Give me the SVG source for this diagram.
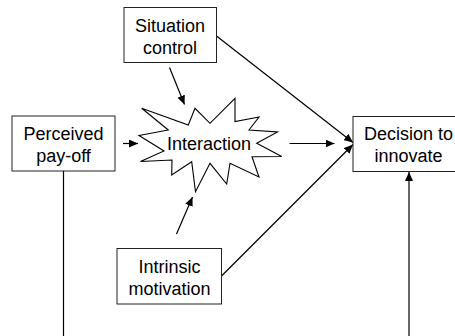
<svg xmlns="http://www.w3.org/2000/svg" width="455" height="336" viewBox="0 0 455 336">
<style>
.box{fill:#fff;stroke:#222;stroke-width:1}
.t{font-family:"Liberation Sans",Arial,sans-serif;font-size:18px;fill:#000;text-anchor:middle}
.c{stroke:#000;stroke-width:1.2;fill:none;marker-end:url(#ah)}
</style>
<defs>
<marker id="ah" markerUnits="userSpaceOnUse" markerWidth="9" markerHeight="8" viewBox="0 0 9 8" refX="9" refY="4" orient="auto">
<path d="M0,0 L9,4 L0,8 z" fill="#000"/>
</marker>
</defs>
<rect width="455" height="336" fill="#fff"/>
<g id="connectors">
<line class="c" x1="123" y1="143.5" x2="138" y2="143.5"/>
<line class="c" x1="169.5" y1="67.5" x2="184.5" y2="104.5"/>
<line class="c" x1="176.5" y1="234" x2="192.5" y2="197"/>
<line class="c" x1="289.5" y1="143.5" x2="334.5" y2="143.5"/>
<line class="c" x1="216.5" y1="36" x2="353" y2="142.5"/>
<line class="c" x1="221.5" y1="276" x2="353" y2="144.5"/>
<line x1="63.5" y1="171" x2="63.5" y2="336" stroke="#000" stroke-width="1.2"/>
<line class="c" x1="409" y1="336" x2="409" y2="172"/>
</g>
<g id="situation-control">
<rect class="box" x="124" y="7.5" width="92.5" height="55"/>
<text class="t" x="170" y="31.5">Situation</text>
<text class="t" x="170" y="53.5">control</text>
</g>
<g id="perceived-payoff">
<rect class="box" x="12" y="116" width="103" height="55"/>
<text class="t" x="63.5" y="139.5">Perceived</text>
<text class="t" x="63.5" y="161.5">pay-off</text>
</g>
<g id="interaction">
<polygon points="141.7,108.3 188.3,125 195,108.3 210,123.3 235,98.3 235,121.5 259,117 249,130 277.5,132 256.7,143.3 281.7,156.5 252,156.7 259,177 230,163.3 226.7,184 210,163.3 195.5,191.7 191.7,161.7 171.7,175 172,160 140.5,161.5 164,151 139,135.5 168.3,130" fill="#fff" stroke="#000" stroke-width="1.1" stroke-linejoin="miter"/>
<text class="t" x="209" y="150">Interaction</text>
</g>
<g id="decision">
<rect class="box" x="353" y="116.5" width="111" height="55"/>
<text class="t" x="408.5" y="140">Decision to</text>
<text class="t" x="408.5" y="162">innovate</text>
</g>
<g id="intrinsic-motivation">
<rect class="box" x="117" y="248.5" width="104.5" height="55.5"/>
<text class="t" x="169.5" y="272.5">Intrinsic</text>
<text class="t" x="169.5" y="295">motivation</text>
</g>
</svg>
